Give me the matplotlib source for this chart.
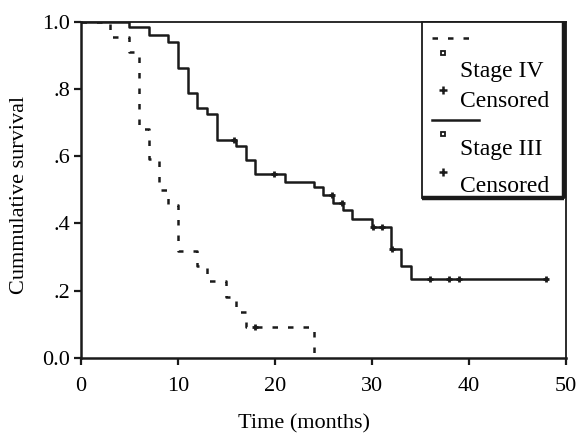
import numpy as np
import matplotlib
matplotlib.use("Agg")
import matplotlib.pyplot as plt
from matplotlib.lines import Line2D
from matplotlib.patches import Rectangle

plt.rcParams["font.family"] = ["Liberation Serif", "DejaVu Serif"]

# Kaplan-Meier steps
stage4_time = [0, 3, 5, 6, 7, 8, 9, 10, 12, 13, 15, 16, 17, 24]
stage4_surv = [1.0, 0.955, 0.909, 0.682, 0.591, 0.5, 0.455, 0.318,
               0.273, 0.227, 0.182, 0.136, 0.091, 0.0]
stage4_cens = [17.9]

stage3_time = [0, 5, 7, 9, 10, 11, 12, 13, 14, 16, 17, 18, 21, 24, 25,
               26, 27, 28, 30, 32, 33, 34, 48]
stage3_surv = [1.0, 0.985, 0.96, 0.94, 0.863, 0.787, 0.743, 0.725, 0.649,
               0.629, 0.587, 0.547, 0.524, 0.509, 0.484, 0.461, 0.44, 0.413,
               0.388, 0.323, 0.273, 0.233, 0.233]
stage3_cens = [15.8, 19.9, 25.9, 26.9, 30.1, 31.0, 32.1, 36, 38, 39, 48]

x_ticks = [0, 10, 20, 30, 40, 50]
y_ticks = [0.0, 0.2, 0.4, 0.6, 0.8, 1.0]
y_tick_labels = ["0.0", ".2", ".4", ".6", ".8", "1.0"]

FS = 16
LW = 1.8
DASH = (0, (2.2, 4.0))
INK = "#1a1a1a"


def surv_at(times, surv, t):
    idx = np.searchsorted(times, t, side="right") - 1
    return np.asarray(surv)[idx]


fig = plt.figure(figsize=(5.81, 4.38), dpi=100)
ax = fig.add_axes([81 / 581, 80.3 / 438, 484.7 / 581, 336 / 438])

ax.step(stage4_time, stage4_surv, where="post", color=INK,
        lw=LW, linestyle=DASH)
ax.plot(stage4_cens, surv_at(stage4_time, stage4_surv, stage4_cens), "+",
        color=INK, ms=5, mew=2)

ax.step(stage3_time, stage3_surv, where="post", color=INK, lw=LW)
ax.plot(stage3_cens, surv_at(stage3_time, stage3_surv, stage3_cens), "+",
        color=INK, ms=5, mew=2)

ax.set_xlim(0, 50)
ax.set_ylim(0, 1.0)
ax.set_xticks(x_ticks)
ax.set_xticklabels([str(t) for t in x_ticks], fontsize=FS)
ax.set_yticks(y_ticks)
ax.set_yticklabels(y_tick_labels, fontsize=FS)
ax.tick_params(axis="both", direction="out", length=5, width=1.6, color=INK)
ax.tick_params(axis="x", pad=9)
ax.tick_params(axis="y", pad=3)
for side, sp in ax.spines.items():
    sp.set_color(INK)
    sp.set_linewidth(1.8 if side in ("left", "bottom") else 1.3)

fig.text(20 / 581, 0.555, "Cummulative survival", rotation=90,
         ha="center", va="center", fontsize=FS)
fig.text(304 / 581, 14 / 438, "Time (months)", ha="center", va="center",
         fontsize=FS)

# legend box with shadowed right / bottom edges
x0, x1, y0, y1 = 0.703, 0.997, 0.474, 1.0
ax.add_patch(Rectangle((x0, y0), x1 - x0, y1 - y0, transform=ax.transAxes,
                       facecolor="white", edgecolor=INK, lw=1.3,
                       zorder=5, clip_on=False))
ax.add_line(Line2D([x1, x1], [y0, y1], transform=ax.transAxes,
                   color=INK, lw=3.2, zorder=6, clip_on=False,
                   solid_capstyle="butt"))
ax.add_line(Line2D([x0, x1], [y0, y0], transform=ax.transAxes,
                   color=INK, lw=3.2, zorder=6, clip_on=False,
                   solid_capstyle="butt"))

ax.add_line(Line2D([0.7235, 0.803], [0.951, 0.951], transform=ax.transAxes,
                   color=INK, lw=LW, linestyle=DASH, zorder=7))
ax.add_line(Line2D([0.7235, 0.822], [0.707, 0.707], transform=ax.transAxes,
                   color=INK, lw=LW, zorder=7))
for ys, yp in [(0.906, 0.797), (0.666, 0.554)]:
    ax.plot(0.7475, ys, "s", transform=ax.transAxes, ms=3.5, mfc="white",
            mec=INK, mew=1.3, zorder=7, clip_on=False)
    ax.plot(0.7475, yp, "+", transform=ax.transAxes, ms=6, mew=1.8,
            color=INK, zorder=7, clip_on=False)
for ty, label in [(0.853, "Stage IV"), (0.762, "Censored"),
                  (0.620, "Stage III"), (0.511, "Censored")]:
    ax.text(0.782, ty, label, transform=ax.transAxes, fontsize=17,
            ha="left", va="center", zorder=8)

fig.savefig("out.png", dpi=100)
